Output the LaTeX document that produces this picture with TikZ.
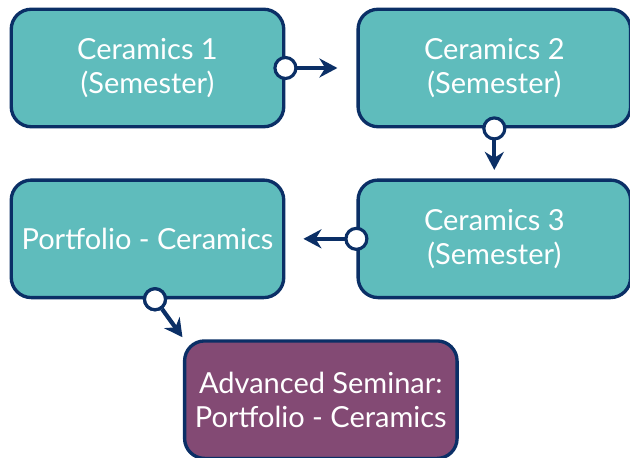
\documentclass[tikz,border=0pt]{standalone}
\usepackage{fontspec}
\setmainfont{Lato}
\usepackage{tikz}
\usetikzlibrary{positioning,arrows.meta}
\definecolor{boxteal}{HTML}{5FBCBC}
\definecolor{boxplum}{HTML}{834A74}
\definecolor{linenavy}{HTML}{0B2F66}
\begin{document}
\begin{tikzpicture}[
				box/.style={
					draw=linenavy, line width=1.9pt, fill=boxteal,
					rounded corners=0.4cm, align=center,
					minimum width=5.45cm, minimum height=2.35cm,
					font=\fontsize{16.5}{19.5}\selectfont, text=white
				},
				dot/.style={
					circle, draw=linenavy, fill=white, line width=1.8pt,
					minimum size=0.42cm, inner sep=0pt
				},
				arr/.style={
					draw=linenavy, line width=2.4pt,
					-{Stealth[length=0.36cm,width=0.38cm]}
				}
				]
				\useasboundingbox (0,0) rectangle (12.6,-9.16);
				\node[box] (b1) at (2.95,-1.36) {Ceramics 1\\(Semester)};
				\node[box, right=1.42cm of b1] (b2) {Ceramics 2\\(Semester)};
				\node[box, below=1cm of b2] (b3) {Ceramics 3\\(Semester)};
				\node[box, below=1cm of b1] (b4) {Portfolio - Ceramics};
				
				\node[box, fill=boxplum, below right=0.8cm and -2.05cm of b4] (b5)
				{Advanced Seminar:\\Portfolio - Ceramics};
				
				\draw[arr, shorten >=0.38cm] (b1.east) -- (b2.west);
				\node[dot] (c1) at (b1.east) {};
				\draw[arr, shorten >=0.17cm] (b2.south) -- (b3.north);
				\node[dot] (c2) at (b2.south) {};
				\draw[arr, shorten >=0.36cm] (b3.west) -- (b4.east);
				\node[dot] (c3) at (b3.west) {};
				\node[dot] (c4) at ([xshift=0.15cm]b4.south) {};
				\draw[arr, shorten >=0.05cm] (c4) -- ([xshift=0.02cm]b5.north west);
				\node[dot] at (c4) {};
			\end{tikzpicture}
\end{document}
